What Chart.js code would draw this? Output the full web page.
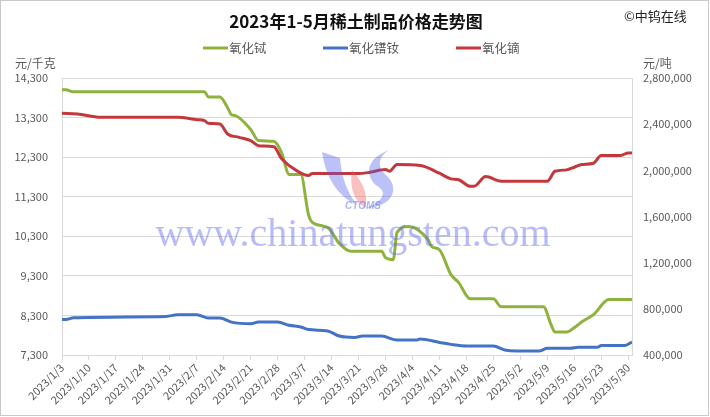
<!DOCTYPE html>
<html>
<head>
<meta charset="utf-8">
<script src="https://cdn.jsdelivr.net/npm/chart.js@4.4.0/dist/chart.umd.min.js"></script>
<style>
  html, body { margin: 0; padding: 0; background: #fff; }
  #wrap { width: 710px; height: 417px; position: relative; }
</style>
</head>
<body>
<div id="wrap"><canvas id="chart"></canvas></div>
<script>
  // Rare earth prices Jan-May 2023
  const titleText = '2023年1-5月稀土制品价格走势图';
  const sourceText = '©中钨在线';
  const leftUnit = '元/千克';
  const rightUnit = '元/吨';
  const watermarkText = 'www.chinatungsten.com';

  const xTickLabels = ['2023/1/3', '2023/1/10', '2023/1/17', '2023/1/24', '2023/1/31', '2023/2/7',
    '2023/2/14', '2023/2/21', '2023/2/28', '2023/3/7', '2023/3/14', '2023/3/21', '2023/3/28',
    '2023/4/4', '2023/4/11', '2023/4/18', '2023/4/25', '2023/5/2', '2023/5/9', '2023/5/16',
    '2023/5/23', '2023/5/30'];
  const leftTicks = [7300, 8300, 9300, 10300, 11300, 12300, 13300, 14300];
  const rightTicks = [400000, 800000, 1200000, 1600000, 2000000, 2400000, 2800000];
  const lastDay = '2023/5/31';

  // 氧化铽 (yuan/kg, left axis)
  const tbDates = ['1/3', '1/4', '1/6', '2/9', '2/10', '2/13', '2/15', '2/16', '2/17', '2/21',
    '2/23', '2/27', '3/1', '3/3', '3/6', '3/8', '3/9', '3/13', '3/16', '3/19',
    '3/27', '3/28', '3/30', '3/31', '4/3', '4/8', '4/9', '4/11', '4/14', '4/16',
    '4/19', '4/25', '4/27', '5/8', '5/10', '5/11', '5/14', '5/16', '5/18', '5/21',
    '5/25', '5/31'];
  const tbValues = [14000, 14000, 13950, 13950, 13820, 13820, 13550, 13370, 13350, 13000,
    12720, 12700, 12420, 11860, 11860, 10850, 10650, 10520, 10120, 9920,
    9920, 9760, 9710, 10400, 10550, 10220, 10040, 9960, 9330, 9130,
    8720, 8720, 8520, 8520, 8060, 7880, 7880, 7990, 8140, 8320,
    8700, 8700];

  // 氧化镨钕 (yuan/t, right axis)
  const prDates = ['1/3', '1/4', '1/6', '1/30', '2/2', '2/7', '2/10', '2/13', '2/16', '2/21',
    '2/23', '2/28', '3/3', '3/6', '3/8', '3/13', '3/16', '3/20', '3/22', '3/27',
    '3/31', '4/5', '4/6', '4/11', '4/14', '4/18', '4/25', '4/28', '5/1', '5/7',
    '5/9', '5/15', '5/17', '5/22', '5/23', '5/29', '5/31'];
  const prValues = [708000, 708000, 723000, 734000, 748000, 748000, 720000, 720000, 685000, 671000,
    685000, 685000, 657000, 643000, 620000, 608000, 564000, 552000, 564000, 564000,
    529000, 529000, 538000, 509000, 492000, 478000, 478000, 443000, 435000, 435000,
    458000, 458000, 467000, 467000, 482000, 482000, 512000];

  // 氧化镝 (yuan/t, right axis)
  const dyDates = ['1/3', '1/7', '1/13', '2/2', '2/7', '2/9', '2/10', '2/13', '2/15', '2/18',
    '2/21', '2/23', '2/27', '3/1', '3/3', '3/8', '3/9', '3/21', '3/24', '3/28',
    '3/29', '3/31', '4/6', '4/11', '4/14', '4/16', '4/19', '4/20', '4/23', '4/27',
    '5/9', '5/11', '5/14', '5/16', '5/18', '5/21', '5/23', '5/28', '5/30', '5/31'];
  const dyValues = [2495000, 2488000, 2459000, 2459000, 2439000, 2430000, 2407000, 2401000, 2315000, 2286000,
    2257000, 2214000, 2205000, 2102000, 2041000, 1955000, 1972000, 1972000, 1984000, 2007000,
    1993000, 2050000, 2041000, 1975000, 1926000, 1918000, 1862000, 1862000, 1946000, 1906000,
    1906000, 1992000, 2004000, 2027000, 2050000, 2061000, 2128000, 2128000, 2151000, 2151000];

  const FONT = '"Noto Sans CJK SC", "Noto Sans", sans-serif';
  const TEXT = '#595959';
  const GRID = '#d9d9d9';

  const base = Date.UTC(2023, 0, 3);
  function dayIndex(s) {
    const p = s.split('/').map(Number);
    const m = p[p.length - 2], d = p[p.length - 1];
    return Math.round((Date.UTC(2023, m - 1, d) - base) / 864e5);
  }
  function toPoints(dates, values) {
    return dates.map((d, i) => ({ x: dayIndex(d), y: values[i] }));
  }
  function setTicks(list) {
    return (scale) => { scale.ticks = list.map((v) => ({ value: v })); };
  }

  const decor = {
    id: 'decor',
    afterDraw(chart) {
      const ctx = chart.ctx;
      ctx.save();
      ctx.strokeStyle = '#c8c8c8';
      ctx.lineWidth = 1;
      ctx.strokeRect(0.5, 0.5, 708, 415);

      ctx.textBaseline = 'middle';
      ctx.textAlign = 'center';
      ctx.fillStyle = '#111';
      ctx.font = 'bold 17px ' + FONT;
      ctx.fillText(titleText, 356, 22);

      ctx.textAlign = 'left';
      ctx.fillStyle = '#222';
      ctx.font = '13px ' + FONT;
      ctx.fillText(sourceText, 624, 16);

      ctx.fillStyle = TEXT;
      ctx.font = '12px ' + FONT;
      ctx.fillText(leftUnit, 15, 63);
      ctx.fillText(rightUnit, 643, 63);

      // legend
      const legendX = [203, 323, 456];
      chart.data.datasets.forEach((ds, i) => {
        const x = legendX[i];
        ctx.strokeStyle = ds.borderColor;
        ctx.lineWidth = 3;
        ctx.beginPath();
        ctx.moveTo(x, 48);
        ctx.lineTo(x + 25, 48);
        ctx.stroke();
        ctx.fillStyle = TEXT;
        ctx.font = '12.5px ' + FONT;
        ctx.fillText(ds.label, x + 26, 48);
      });

      // watermark logo + site text
      ctx.fillStyle = 'rgba(80, 95, 235, 0.38)';
      ctx.beginPath();
      ctx.moveTo(322, 152);
      ctx.quadraticCurveTo(328, 192, 357, 205);
      ctx.quadraticCurveTo(342, 186, 340, 158);
      ctx.closePath();
      ctx.fill();
      ctx.beginPath();
      ctx.moveTo(389, 150);
      ctx.bezierCurveTo(362, 160, 366, 180, 380, 188);
      ctx.bezierCurveTo(388, 195, 378, 204, 366, 208);
      ctx.bezierCurveTo(396, 206, 399, 186, 386, 175);
      ctx.bezierCurveTo(376, 166, 379, 156, 389, 150);
      ctx.fill();
      ctx.fillStyle = 'rgba(240, 90, 90, 0.38)';
      ctx.beginPath();
      ctx.moveTo(352, 170);
      ctx.quadraticCurveTo(348, 196, 365, 208);
      ctx.quadraticCurveTo(370, 190, 352, 170);
      ctx.fill();
      ctx.fillStyle = 'rgba(90, 110, 235, 0.5)';
      ctx.font = 'italic bold 10px "Liberation Sans", sans-serif';
      ctx.textAlign = 'center';
      ctx.fillText('CTOMS', 363, 206);

      ctx.fillStyle = 'rgba(95, 105, 240, 0.45)';
      ctx.font = '40px "Liberation Serif", serif';
      ctx.textAlign = 'center';
      ctx.textBaseline = 'alphabetic';
      ctx.fillText(watermarkText, 353, 246);
      ctx.restore();
    }
  };

  const lineStyle = {
    borderWidth: 3,
    pointRadius: 0,
    fill: false,
    cubicInterpolationMode: 'monotone'
  };

  new Chart(document.getElementById('chart'), {
    type: 'line',
    data: {
      datasets: [
        Object.assign({ label: '氧化铽', data: toPoints(tbDates, tbValues), borderColor: '#8db33e', yAxisID: 'y', order: 3 }, lineStyle),
        Object.assign({ label: '氧化镨钕', data: toPoints(prDates, prValues), borderColor: '#4472c4', yAxisID: 'y1', order: 2 }, lineStyle),
        Object.assign({ label: '氧化镝', data: toPoints(dyDates, dyValues), borderColor: '#c3383c', yAxisID: 'y1', order: 1 }, lineStyle)
      ]
    },
    options: {
      responsive: true,
      maintainAspectRatio: false,
      animation: false,
      devicePixelRatio: 1,
      layout: { padding: { top: 78, left: 0, right: 0, bottom: 0 } },
      plugins: {
        legend: { display: false },
        title: { display: false },
        tooltip: { enabled: false }
      },
      scales: {
        x: {
          type: 'linear',
          min: 0,
          max: dayIndex(lastDay),
          grid: { drawOnChartArea: false, drawTicks: true, tickLength: 5, color: GRID },
          border: { display: true, color: GRID },
          ticks: {
            autoSkip: false,
            minRotation: 45,
            maxRotation: 45,
            padding: 1,
            color: TEXT,
            font: { family: FONT, size: 11 },
            callback: (v, i) => xTickLabels[i]
          },
          afterBuildTicks: (scale) => {
            scale.ticks = xTickLabels.map((l) => ({ value: dayIndex(l) }));
          },
          afterFit: (scale) => { scale.height = 62; }
        },
        y: {
          position: 'left',
          min: leftTicks[0],
          max: leftTicks[leftTicks.length - 1],
          grid: { color: GRID, drawTicks: false },
          border: { display: true, color: GRID },
          ticks: {
            padding: 14,
            color: TEXT,
            font: { family: FONT, size: 11 },
            callback: (v) => v.toLocaleString('en-US')
          },
          afterBuildTicks: setTicks(leftTicks),
          afterFit: (scale) => { scale.width = 62; }
        },
        y1: {
          position: 'right',
          min: rightTicks[0],
          max: rightTicks[rightTicks.length - 1],
          grid: { drawOnChartArea: false, drawTicks: false },
          border: { display: true, color: GRID },
          ticks: {
            padding: 11,
            color: TEXT,
            font: { family: FONT, size: 11 },
            callback: (v) => v.toLocaleString('en-US')
          },
          afterBuildTicks: setTicks(rightTicks),
          afterFit: (scale) => { scale.width = 78; }
        }
      }
    },
    plugins: [decor]
  });
</script>
</body>
</html>
